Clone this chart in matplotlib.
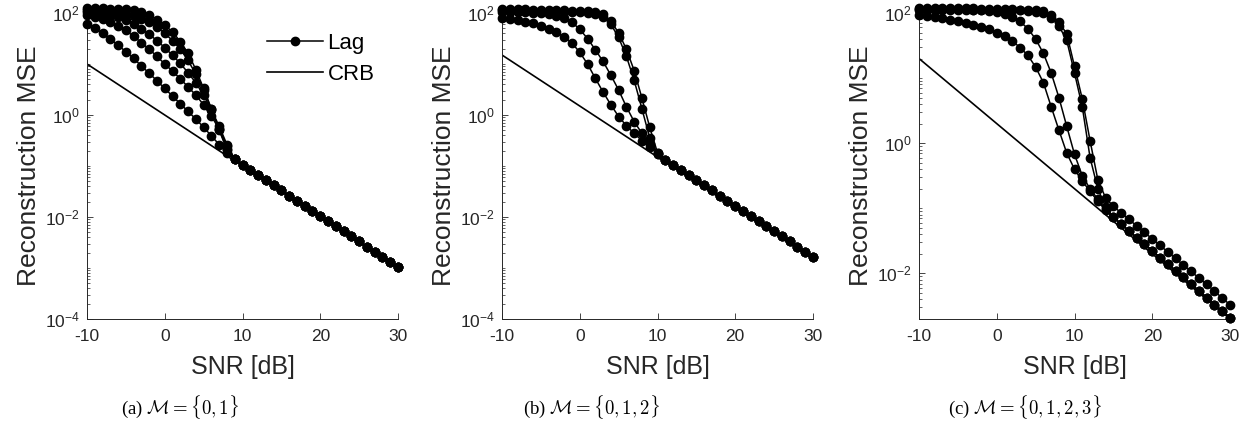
import numpy as np
import matplotlib
matplotlib.use("Agg")
import matplotlib.pyplot as plt
from matplotlib.ticker import FixedLocator, LogLocator, NullFormatter, LogFormatterSciNotation

plt.rcParams['font.family'] = ['Liberation Sans', 'DejaVu Sans']
plt.rcParams['axes.unicode_minus'] = False
plt.rcParams['mathtext.fontset'] = 'cm'

# ---------------- data (MSE given as log10 values) ----------------
snr_db = list(range(-10, 31))          # SNR grid [dB]
crb_snr = [-10, 30]                    # CRB lines (straight on semilog axes)
crb_a = [10.0, 1.0e-3]
crb_b = [15.0, 1.5e-3]
crb_c = [20.0, 2.0e-3]

# panel (a): first 20 points of each Lag curve, shared tail for 10..30 dB
a_lag1 = [1.79, 1.70, 1.60, 1.49, 1.37, 1.24, 1.11, 0.96, 0.82, 0.67,
          0.52, 0.37, 0.22, 0.07, -0.08, -0.24, -0.41, -0.58, -0.74, -0.87]
a_lag2 = [1.96, 1.93, 1.89, 1.83, 1.75, 1.66, 1.54, 1.42, 1.29, 1.15,
          1.00, 0.86, 0.71, 0.55, 0.39, 0.20, -0.02, -0.28, -0.60, -0.87]
a_lag3 = [2.02, 2.01, 1.99, 1.96, 1.92, 1.86, 1.78, 1.69, 1.58, 1.46,
          1.32, 1.17, 1.01, 0.83, 0.63, 0.39, 0.10, -0.22, -0.58, -0.87]
a_lag4 = [2.06, 2.05, 2.04, 2.03, 2.01, 1.98, 1.94, 1.89, 1.82, 1.73,
          1.60, 1.46, 1.29, 1.07, 0.80, 0.49, 0.12, -0.28, -0.66, -0.87]
a_lag5 = [2.09, 2.09, 2.09, 2.08, 2.08, 2.07, 2.05, 2.01, 1.96, 1.87,
          1.76, 1.63, 1.44, 1.21, 0.89, 0.52, 0.12, -0.30, -0.68, -0.87]
a_tail = [-0.98, -1.08, -1.18, -1.28, -1.38, -1.48, -1.58, -1.68, -1.78, -1.88,
          -1.98, -2.08, -2.18, -2.28, -2.38, -2.48, -2.58, -2.68, -2.78, -2.88, -2.98]

# panel (b): first 21 points, shared tail for 11..30 dB
b_lag1 = [1.90, 1.88, 1.86, 1.83, 1.80, 1.75, 1.69, 1.62, 1.53, 1.41,
          1.23, 1.00, 0.72, 0.45, 0.20, -0.03, -0.21, -0.36, -0.50, -0.63, -0.76]
b_lag2 = [2.02, 2.02, 2.01, 2.01, 2.00, 2.00, 1.98, 1.95, 1.90, 1.82,
          1.68, 1.50, 1.28, 1.05, 0.78, 0.49, 0.16, -0.13, -0.36, -0.56, -0.74]
b_lag3 = [2.05, 2.05, 2.05, 2.04, 2.04, 2.04, 2.03, 2.03, 2.02, 2.02,
          2.01, 2.00, 1.98, 1.93, 1.78, 1.52, 1.15, 0.68, 0.12, -0.45, -0.76]
b_lag4 = [2.07, 2.07, 2.07, 2.07, 2.06, 2.06, 2.06, 2.05, 2.05, 2.04,
          2.04, 2.03, 2.02, 1.98, 1.84, 1.61, 1.29, 0.87, 0.33, -0.24, -0.74]
b_tail = [-0.88, -0.98, -1.08, -1.18, -1.28, -1.38, -1.48, -1.58, -1.68, -1.78,
          -1.88, -1.98, -2.08, -2.18, -2.28, -2.38, -2.48, -2.58, -2.68, -2.78]

# panel (c): first 25 points, two tails for 15..30 dB
c_lag1 = [1.97, 1.95, 1.94, 1.92, 1.90, 1.88, 1.85, 1.82, 1.79, 1.75,
          1.70, 1.64, 1.57, 1.47, 1.35, 1.17, 0.93, 0.56, 0.20, -0.15,
          -0.40, -0.58, -0.74, -0.89, -1.03]
c_lag2 = [2.05, 2.05, 2.05, 2.05, 2.05, 2.04, 2.04, 2.04, 2.04, 2.03,
          2.02, 1.99, 1.94, 1.87, 1.76, 1.60, 1.38, 1.08, 0.70, 0.26,
          -0.17, -0.50, -0.70, -0.86, -1.01]
c_lag3 = [2.06, 2.06, 2.06, 2.06, 2.06, 2.06, 2.06, 2.05, 2.05, 2.05,
          2.05, 2.05, 2.04, 2.04, 2.03, 2.02, 2.00, 1.93, 1.80, 1.58,
          1.08, 0.56, -0.22, -0.70, -0.98]
c_lag4 = [2.07, 2.07, 2.07, 2.07, 2.07, 2.07, 2.07, 2.07, 2.06, 2.06,
          2.06, 2.06, 2.06, 2.05, 2.05, 2.04, 2.03, 1.97, 1.86, 1.68,
          1.18, 0.68, 0.04, -0.56, -0.84]
c_tail_low = [-1.14, -1.24, -1.35, -1.45, -1.55, -1.65, -1.76, -1.86,
              -1.96, -2.06, -2.17, -2.27, -2.37, -2.48, -2.58, -2.68]
c_tail_high = [-0.97, -1.07, -1.17, -1.27, -1.37, -1.47, -1.57, -1.67,
               -1.77, -1.87, -1.97, -2.07, -2.17, -2.27, -2.38, -2.48]

captions = [r"(a) $\mathcal{M}=\{0,1\}$",
            r"(b) $\mathcal{M}=\{0,1,2\}$",
            r"(c) $\mathcal{M}=\{0,1,2,3\}$"]
x_ticks = [-10, 0, 10, 20, 30]

panels = [
    dict(curves=[a_lag1 + a_tail, a_lag2 + a_tail, a_lag3 + a_tail,
                 a_lag4 + a_tail, a_lag5 + a_tail],
         crb=crb_a, ylim=(1e-4, 1e2), yticks=[1e-4, 1e-2, 1e0, 1e2],
         box=(87, 398), cap_x=180),
    dict(curves=[b_lag1 + b_tail, b_lag2 + b_tail, b_lag3 + b_tail, b_lag4 + b_tail],
         crb=crb_b, ylim=(1e-4, 1e2), yticks=[1e-4, 1e-2, 1e0, 1e2],
         box=(502, 813), cap_x=592),
    dict(curves=[c_lag1 + c_tail_low, c_lag2 + c_tail_low, c_lag3 + c_tail_low,
                 c_lag4 + c_tail_high],
         crb=crb_c, ylim=(10 ** -2.70, 1e2), yticks=[1e-2, 1e0, 1e2],
         box=(919, 1230), cap_x=1025),
]

W, H = 1250, 426
TOP, BOT = 13, 319
dark = '#262626'

fig = plt.figure(figsize=(W / 100, H / 100), dpi=100)

for i, p in enumerate(panels):
    l, r = p['box']
    ax = fig.add_axes([l / W, 1 - BOT / H, (r - l) / W, (BOT - TOP) / H])
    lag_lines = []
    for c in p['curves']:
        ln, = ax.plot(snr_db, np.power(10.0, c), color='black', lw=1.1,
                      marker='o', markersize=6.0, markerfacecolor='black',
                      markeredgecolor='black', clip_on=False, zorder=3)
        lag_lines.append(ln)
    crb_line, = ax.plot(crb_snr, p['crb'], color='black', lw=1.2, zorder=2)

    ax.set_yscale('log')
    ax.set_xlim(-10, 30)
    ax.set_ylim(*p['ylim'])
    ax.xaxis.set_major_locator(FixedLocator(x_ticks))
    ax.yaxis.set_major_locator(FixedLocator(p['yticks']))
    ax.yaxis.set_major_formatter(LogFormatterSciNotation())
    ax.yaxis.set_minor_locator(LogLocator(base=10, subs=np.arange(1, 10), numticks=100))
    ax.yaxis.set_minor_formatter(NullFormatter())

    for s in ['top', 'right']:
        ax.spines[s].set_visible(False)
    for s in ['left', 'bottom']:
        ax.spines[s].set_color(dark)
        ax.spines[s].set_linewidth(0.7)
    ax.tick_params(which='major', direction='in', length=4, width=0.6,
                   colors=dark, labelsize=12.5, pad=5)
    ax.tick_params(axis='x', which='major', pad=7)
    ax.tick_params(which='minor', direction='in', length=2.2, width=0.5, colors=dark)

    ax.set_xlabel('SNR [dB]', fontsize=18, color=dark, labelpad=8)
    ax.set_ylabel('Reconstruction MSE', fontsize=19, color=dark, labelpad=3)

    if i == 0:
        ax.legend([lag_lines[0], crb_line], ['Lag', 'CRB'], loc='upper left',
                  bbox_to_anchor=(0.58, 0.935), frameon=False, fontsize=16,
                  handlelength=2.5, handletextpad=0.2, labelspacing=0.45,
                  borderpad=0, borderaxespad=0)

    fig.text(p['cap_x'] / W, 1 - 407 / H, captions[i], ha='center', va='center',
             fontsize=13.5, family='Liberation Serif', color='black')

fig.savefig('out.png', dpi=100)
